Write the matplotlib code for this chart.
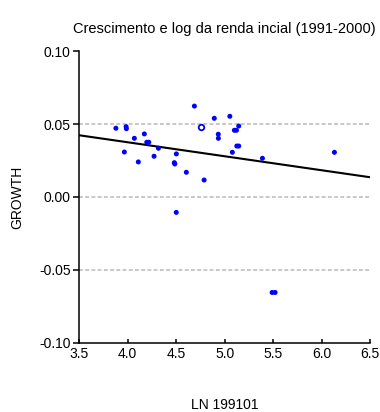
import numpy as np
import matplotlib
matplotlib.use('Agg')
import matplotlib.pyplot as plt

plt.rcParams['font.family'] = ['Liberation Sans', 'DejaVu Sans']

# log da renda inicial (1991) e crescimento medio 1991-2000
ln_renda = [3.88, 3.985, 3.988, 4.173, 4.07, 4.198, 4.219, 3.967, 4.318, 4.111,
            4.273, 4.503, 4.482, 4.487, 4.606, 4.789, 4.502, 4.689, 4.894, 4.935,
            4.936, 5.054, 5.146, 5.101, 5.122, 5.126, 5.146, 5.08, 5.39, 6.132,
            5.49, 5.521]
growth = [0.0471, 0.0482, 0.0468, 0.0432, 0.0402, 0.0375, 0.0375, 0.0308, 0.0334, 0.0240,
          0.0279, 0.0295, 0.0235, 0.0226, 0.0169, 0.0116, -0.0106, 0.0623, 0.0539, 0.0430,
          0.0402, 0.0553, 0.0486, 0.0457, 0.0457, 0.0349, 0.0349, 0.0306, 0.0265, 0.0306,
          -0.0655, -0.0655]

# ponto destacado (marcador vazado)
destaque_x = [4.758]
destaque_y = [0.0477]

# reta ajustada
reta_x = [3.5, 6.5]
reta_y = [0.0423, 0.0135]

x_ticks = [3.5, 4.0, 4.5, 5.0, 5.5, 6.0, 6.5]
y_ticks = [-0.10, -0.05, 0.00, 0.05, 0.10]
grid_y = [-0.05, 0.00, 0.05]

fig = plt.figure(figsize=(3.8, 4.12), dpi=100)
ax = fig.add_axes([0.208, 0.168, 0.766, 0.708])

for g in grid_y:
    ax.axhline(g, color='#c8c8c8', lw=1.4, ls=(0, (2, 1.2)), zorder=1)

ax.plot(reta_x, reta_y, color='black', lw=1.5, zorder=2)
ax.scatter(ln_renda, growth, s=13, color='#0000ff', edgecolors='none', zorder=3)
ax.scatter(destaque_x, destaque_y, s=16, facecolors='white', edgecolors='#0000ff',
           linewidths=1.3, zorder=3)

ax.set_xlim(3.5, 6.5)
ax.set_ylim(-0.10, 0.10)
ax.set_xticks(x_ticks)
ax.set_xticklabels([f'{v:.1f}' for v in x_ticks])
ax.set_yticks(y_ticks)
ax.set_yticklabels([f'{v:.2f}' for v in y_ticks])

for s in ['top', 'right']:
    ax.spines[s].set_visible(False)
for s in ['left', 'bottom']:
    ax.spines[s].set_linewidth(1.1)

ax.tick_params(axis='y', direction='out', length=4, width=1.1, labelsize=10, pad=2)
ax.tick_params(axis='x', direction='in', length=3, width=1.1, labelsize=10, pad=3)

ax.set_title('Crescimento e log da renda incial (1991-2000)', fontsize=10.5, pad=13, x=0.5)
ax.set_ylabel('GROWTH', fontsize=10, labelpad=11)
ax.set_xlabel('LN 199101', fontsize=10, labelpad=27)

fig.savefig('out.png', dpi=100)
